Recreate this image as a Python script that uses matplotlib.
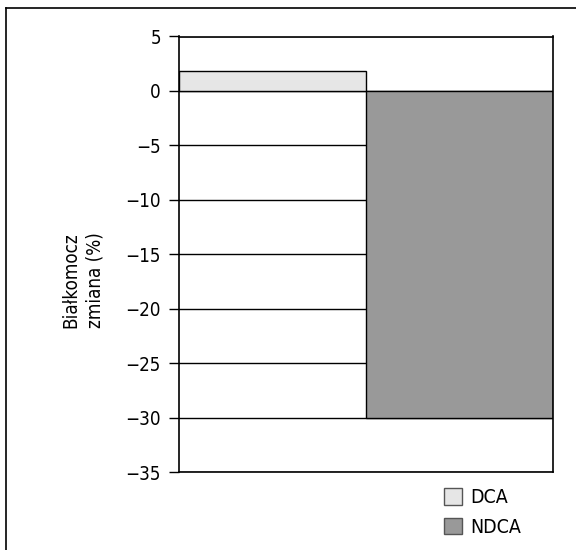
import matplotlib.pyplot as plt
from matplotlib.lines import Line2D
from matplotlib.patches import Patch

plt.rcParams['font.family'] = ['DejaVu Sans']
plt.rcParams['font.stretch'] = 'condensed'

groups = ["DCA", "NDCA"]
values = [1.85, -30.0]
colors = ["#e6e6e6", "#999999"]
yticks = [5, 0, -5, -10, -15, -20, -25, -30, -35]

fig = plt.figure(figsize=(5.76, 5.5), dpi=100)
ax = fig.add_axes([179 / 576, 1 - 472 / 550, 374 / 576, 435.5 / 550])

# bars sit side by side, touching
x = list(range(len(groups)))
ax.bar(x, values, width=1.0, color=colors, edgecolor="black", linewidth=1, zorder=2)
ax.set_xlim(-0.5, 1.5)
ax.set_ylim(-35, 5)
ax.set_yticks(yticks)
ax.set_yticklabels([str(t).replace("-", "\u2212") for t in yticks], fontsize=13.5)
ax.set_xticks([])
ax.yaxis.grid(True, color="black", linewidth=1, zorder=0)
ax.set_axisbelow(True)
ax.tick_params(axis="y", length=7, width=1, color="black", pad=6)
for s in ax.spines.values():
    s.set_linewidth(1.2)

ax.set_ylabel("Białkomocz\nzmiana (%)", fontsize=13.5, linespacing=1.35)
ax.yaxis.set_label_coords(-0.2, 0.44)

handles = [Patch(facecolor=c, edgecolor="#555555", label=g) for g, c in zip(groups, colors)]
fig.legend(handles=handles, loc="upper left", bbox_to_anchor=(444 / 576, 1 - 488 / 550),
           frameon=False, fontsize=14, handlelength=0.93, handleheight=0.93,
           handletextpad=0.4, labelspacing=0.55, borderpad=0, borderaxespad=0)

# partial outer frame
fig.add_artist(Line2D([6 / 576, 1], [1 - 8 / 550, 1 - 8 / 550], color="black", lw=1.2))
fig.add_artist(Line2D([6 / 576, 6 / 576], [0, 1 - 8 / 550], color="black", lw=1.2))

fig.savefig("out.png", dpi=100)
